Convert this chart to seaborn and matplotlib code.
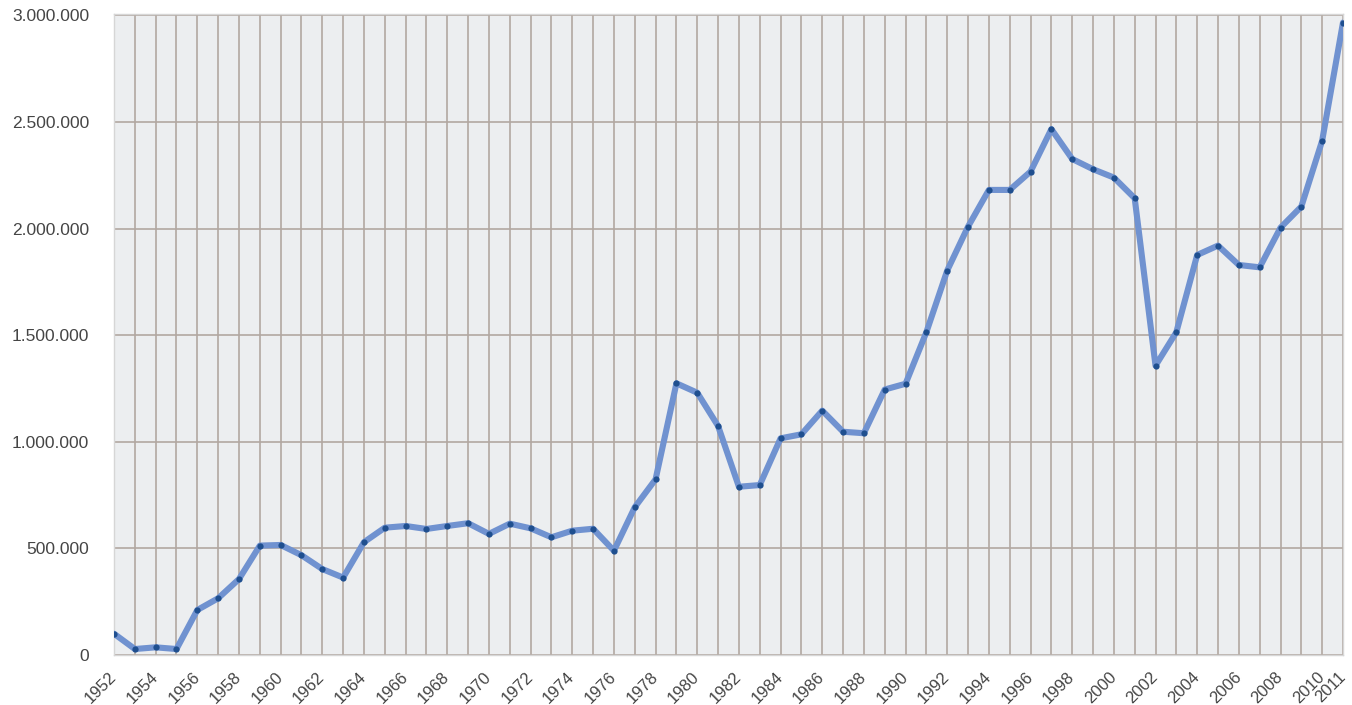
import matplotlib
matplotlib.use("Agg")
import matplotlib.pyplot as plt
import seaborn as sns
import pandas as pd

years = list(range(1952, 2012))
values = [
    100000, 28000, 36000, 28000, 211000, 266000, 356000, 513000, 516000, 468000,
    403000, 363000, 529000, 597000, 605000, 591000, 605000, 618000, 568000, 616000,
    594000, 552000, 583000, 592000, 489000, 693000, 824000, 1274000, 1230000, 1074000,
    789000, 797000, 1016000, 1035000, 1146000, 1047000, 1040000, 1245000, 1272000, 1514000,
    1803000, 2009000, 2181000, 2181000, 2267000, 2466000, 2326000, 2278000, 2239000, 2142000,
    1357000, 1514000, 1876000, 1920000, 1829000, 1818000, 2004000, 2103000, 2412000, 2966000,
]
y_ticks = [0, 500000, 1000000, 1500000, 2000000, 2500000, 3000000]
y_tick_labels = ["0", "500.000", "1.000.000", "1.500.000", "2.000.000", "2.500.000", "3.000.000"]
x_label_years = list(range(1952, 2011, 2)) + [2011]

df = pd.DataFrame({"year": years, "value": values})

sns.set_theme(style="white")
plt.rcParams["font.family"] = ["Liberation Sans", "DejaVu Sans"]

fig = plt.figure(figsize=(13.52, 7.05), dpi=100)
ax = fig.add_axes([114 / 1352, 1 - 655 / 705, (1343 - 114) / 1352, (655 - 14) / 705])
ax.set_facecolor("#eceef0")

sns.lineplot(data=df, x="year", y="value", ax=ax, color="#7092d0", linewidth=4.4,
             marker="o", markersize=4.5, markerfacecolor="#1f4f8f",
             markeredgecolor="#1f4f8f", markeredgewidth=0, zorder=3)

ax.set_xlim(1952, 2011)
ax.set_ylim(0, 3000000 * 1.002)

ax.set_xticks(years)
ax.set_xticklabels([str(y) if y in x_label_years else "" for y in years])
ax.set_yticks(y_ticks)
ax.set_yticklabels(y_tick_labels)

ax.grid(True, axis="both", color="#b2a8a1", linewidth=1.2, zorder=1)
ax.set_axisbelow(True)

for lbl in ax.get_xticklabels():
    lbl.set_rotation(45)
    lbl.set_rotation_mode("anchor")
    lbl.set_ha("right")
    lbl.set_va("center")

ax.tick_params(axis="x", length=0, pad=14, labelsize=12, labelcolor="#454545")
ax.tick_params(axis="y", length=0, pad=18, labelsize=12.5, labelcolor="#454545")

for side in ["top", "right", "left", "bottom"]:
    ax.spines[side].set_color("#d6d6d6")
    ax.spines[side].set_linewidth(1.0)

ax.set_xlabel("")
ax.set_ylabel("")

fig.savefig("out.png", dpi=100)
